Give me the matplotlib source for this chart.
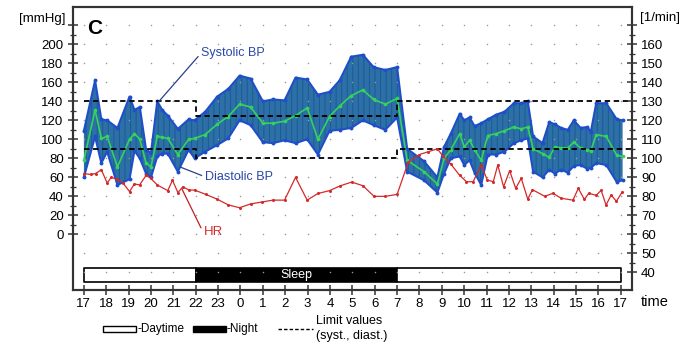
import numpy as np
import matplotlib
matplotlib.use("Agg")
import matplotlib.pyplot as plt
from matplotlib.patches import Rectangle
from matplotlib.lines import Line2D

plt.rcParams['font.family'] = ['Liberation Sans', 'DejaVu Sans']
plt.rcParams['hatch.linewidth'] = 0.7

# blood pressure readings (hours since midnight of day 1, 17 -> 41 = 17:00 next day)
t_bp = [17.0, 17.5, 17.78, 18.04, 18.5, 19.04, 19.26, 19.5, 19.78, 20.0, 20.28, 20.5, 20.75,
        21.2, 21.68, 21.95, 22.42, 22.96, 23.45, 23.96, 24.45, 25.0, 25.45, 25.97, 26.46,
        26.98, 27.46, 27.98, 28.43, 28.95, 29.47, 29.95, 30.47, 31.0, 31.45, 32.2, 32.8,
        33.1, 33.4, 33.8, 34.0, 34.24, 34.46, 34.76, 35.05, 35.43, 35.8, 36.22, 36.55,
        36.84, 37.08, 37.5, 37.8, 38.05, 38.33, 38.63, 38.9, 39.2, 39.5, 39.66, 39.9,
        40.35, 40.82, 41.08]
systolic = [109, 162, 121, 120, 112, 145, 131, 134, 89, 86, 140, 131, 125,
            111, 121, 120, 129, 145, 153, 167, 164, 140, 142, 141, 165,
            163, 147, 150, 162, 187, 189, 176, 173, 176, 90, 77, 60,
            92, 106, 127, 120, 123, 114, 117, 121, 126, 129, 138, 138,
            140, 103, 96, 118, 116, 112, 110, 120, 112, 113, 108, 138,
            138, 121, 120]
diastolic = [60, 103, 75, 87, 52, 58, 88, 80, 64, 60, 82, 85, 85,
             66, 89, 80, 87, 94, 101, 120, 115, 97, 96, 99, 96,
             100, 84, 109, 110, 112, 120, 115, 110, 123, 66, 57, 44,
             64, 80, 82, 73, 78, 65, 52, 84, 84, 87, 96, 99,
             101, 66, 60, 68, 64, 68, 65, 72, 73, 69, 70, 75,
             73, 55, 57]
mean_bp = [78, 131, 101, 103, 71, 100, 106, 100, 75, 71, 103, 102, 101,
           84, 100, 101, 105, 116, 124, 137, 134, 117, 117, 119, 125,
           133, 100, 124, 135, 146, 152, 142, 137, 143, 78, 66, 53,
           80, 89, 106, 92, 99, 89, 78, 104, 106, 109, 113, 111,
           113, 90, 85, 81, 92, 91, 91, 97, 91, 89, 88, 105,
           103, 83, 82]

# heart rate
t_hr = [17.0, 17.3, 17.52, 17.78, 18.04, 18.22, 18.49, 18.75, 19.04, 19.26,
        19.49, 19.78, 19.98, 20.28, 20.75, 20.96, 21.2, 21.43, 21.7, 21.95,
        22.45, 22.96, 23.45, 23.96, 24.45, 24.95, 25.45, 25.97, 26.46, 26.98,
        27.46, 27.98, 28.45, 28.97, 29.47, 29.97, 30.47, 31.0, 31.5, 32.0,
        32.4, 32.8, 33.06, 33.4, 33.8, 34.1, 34.4, 34.76, 35.03, 35.3,
        35.5, 35.76, 36.03, 36.3, 36.55, 36.84, 37.05, 37.6, 37.97, 38.33,
        38.86, 39.1, 39.37, 39.57, 39.9, 40.12, 40.34, 40.57, 40.8, 41.07]
hr = [92, 91.5, 92, 94, 87, 90, 89, 87, 82.5, 86.5,
      86, 91, 89.5, 86, 83, 88.5, 82, 85, 83.3, 83.3,
      81, 78.5, 75.5, 74, 76, 77, 78, 78, 90, 78,
      81.5, 83, 85.5, 87.5, 85.6, 80, 80, 81, 98, 102,
      103.5, 105, 101, 97, 91, 87.7, 87.7, 96.5, 88.6, 87.7,
      96.5, 85, 93.5, 84.2, 89.5, 78.5, 83.5, 80, 81.6, 79,
      78, 84.2, 78.4, 81.6, 80.5, 83.2, 75.4, 80.7, 77.4, 82.4]

# limit values (day / night / day)
limit_t = [17, 22, 22, 31, 31, 41.5]
limit_syst = [140, 140, 125, 125, 140, 140]
limit_diast = [90, 90, 80, 80, 90, 90]

# day / night bar
bar_start = [17, 22, 31]
bar_len = [5, 9, 10]
bar_col = ['white', 'black', 'white']

hours = list(range(17, 42))
hour_labels = [str(h % 24) for h in hours]

W, H = 699, 352
fig = plt.figure(figsize=(W / 100, H / 100), dpi=100)
ax = fig.add_axes([72.7 / W, 1 - 290 / H, (632 - 72.7) / W, (290 - 7) / H])
ax.set_xlim(16.5, 41.5)
ax.set_ylim(-58.6, 239.3)

# dotted grid (dots at hour / 20 mmHg intersections)
gx, gy = np.meshgrid(hours, np.arange(-40, 221, 20))
ax.scatter(gx.ravel(), gy.ravel(), s=1.2, c='#9a9a9a', lw=0, zorder=3)

# BP band
ax.fill_between(t_bp, diastolic, systolic, facecolor='#2d70a8', edgecolor='#1c5a92',
                hatch='|||', lw=0, zorder=2)
ax.plot(t_bp, systolic, color='#1f4fc8', lw=1.5, marker='o', ms=1.8, zorder=4)
ax.plot(t_bp, diastolic, color='#1f4fc8', lw=1.5, marker='o', ms=1.8, zorder=4)
ax.plot(t_bp, mean_bp, color='#33d35c', lw=1.2, marker='o', ms=1.6, zorder=5)

# limit values
ax.plot(limit_t, limit_syst, color='black', lw=1.3, ls=(0, (3, 2)), zorder=6)
ax.plot(limit_t, limit_diast, color='black', lw=1.3, ls=(0, (3, 2)), zorder=6)

# day/night bar
ax.broken_barh(list(zip(bar_start, bar_len)), (-50.5, 14.7), facecolors=bar_col,
               edgecolor='black', lw=1.2, zorder=2)
ax.text(26.5, -43.2, 'Sleep', color='white', ha='center', va='center', fontsize=9, zorder=7)

# annotations
blue_txt = '#2a48a8'
ax.plot([20.32, 22.1], [139, 187], color='#2a3f90', lw=0.9, zorder=7)
ax.text(22.25, 191, 'Systolic BP', color=blue_txt, fontsize=9, va='center', ha='left')
ax.plot([21.29, 22.26], [71, 62], color='#2a3f90', lw=0.9, zorder=7)
ax.text(22.4, 60, 'Diastolic BP', color=blue_txt, fontsize=9, va='center', ha='left')
ax.text(17.15, 217, 'C', fontsize=15, fontweight='bold', va='center', ha='left')

# axes styling
for s in ax.spines.values():
    s.set_linewidth(1.5)
    s.set_color('#333333')
ax.set_xticks(hours)
ax.set_xticklabels(hour_labels)
ax.set_yticks(range(0, 221, 20))
ax.set_yticklabels([str(v) if v <= 200 else '' for v in range(0, 221, 20)])
ax.set_yticks(range(0, 221, 10), minor=True)
ax.tick_params(axis='both', which='major', direction='inout', length=7, width=1.1,
               labelsize=9.5, pad=3, color='#333333')
ax.tick_params(axis='y', which='minor', direction='inout', length=4, width=0.9, color='#333333')
ax.tick_params(axis='x', which='major', pad=2)

ax2 = ax.twinx()
ax2.set_ylim(30.7, 179.65)
ax2.plot(t_hr, hr, color='#d42a2a', lw=0.9, marker='o', ms=1.2, zorder=5)
ax2.plot([21.37, 22.23], [84.2, 63.5], color='#c02020', lw=0.9)
ax2.text(22.36, 61.4, 'HR', color='#d42a2a', fontsize=9.5, va='center', ha='left')
ax2.set_yticks(range(40, 171, 10))
ax2.set_yticklabels([str(v) if v <= 160 else '' for v in range(40, 171, 10)])
ax2.set_yticks(range(40, 171, 5), minor=True)
ax2.tick_params(axis='y', which='major', direction='inout', length=7, width=1.1,
                labelsize=9.5, pad=3, color='#333333')
ax2.tick_params(axis='y', which='minor', direction='inout', length=4, width=0.9, color='#333333')
for s in ax2.spines.values():
    s.set_linewidth(1.5)
    s.set_color('#333333')

# unit labels
fig.text(66 / W, 1 - 19 / H, '[mmHg]', ha='right', va='center', fontsize=9.5)
fig.text(640 / W, 1 - 18 / H, '[1/min]', ha='left', va='center', fontsize=9.5)
fig.text(641 / W, 1 - 302 / H, 'time', ha='left', va='center', fontsize=10.5)

# bottom legend
fig.add_artist(Rectangle((102.7 / W, 1 - 332 / H), 33.3 / W, 6 / H, transform=fig.transFigure,
                         fc='white', ec='black', lw=1))
fig.text(137 / W, 1 - 329 / H, '-Daytime', ha='left', va='center', fontsize=8.5)
fig.add_artist(Rectangle((192.7 / W, 1 - 332 / H), 33.3 / W, 6 / H, transform=fig.transFigure,
                         fc='black', ec='black', lw=1))
fig.text(227 / W, 1 - 329 / H, '-Night', ha='left', va='center', fontsize=8.5)
fig.add_artist(Line2D([278 / W, 313 / W], [1 - 329.3 / H, 1 - 329.3 / H], transform=fig.transFigure,
                      color='black', lw=1, ls=(0, (2.5, 1.5))))
fig.text(316 / W, 1 - 321 / H, 'Limit values', ha='left', va='center', fontsize=9)
fig.text(316 / W, 1 - 336 / H, '(syst., diast.)', ha='left', va='center', fontsize=9)

fig.savefig('out.png', dpi=100)
